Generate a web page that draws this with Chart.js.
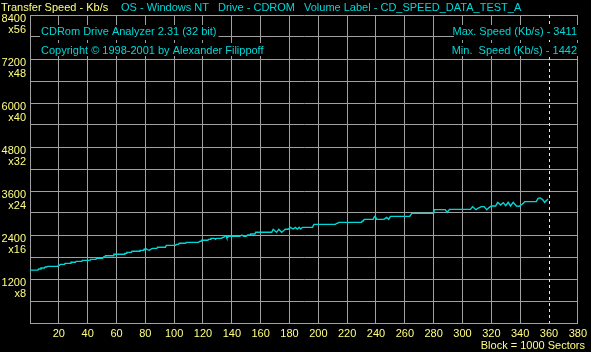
<!DOCTYPE html>
<html>
<head>
<meta charset="utf-8">
<script src="https://cdn.jsdelivr.net/npm/chart.js@4"></script>
<style>
  html, body { margin: 0; padding: 0; background: #000; }
  #wrap { width: 591px; height: 352px; }
</style>
</head>
<body>
<div id="wrap"><canvas id="cdChart"></canvas></div>
<script>
// position in blocks (1 block = 1000 sectors) and read speed in Kb/s
const blocks = [
  0, 5.5, 6, 7, 7.6, 10, 10.5, 11.7, 12.2, 19.3,
  19.8, 20.5, 21, 23.9, 24.3, 28, 28.4, 31.5, 32, 35.9,
  36.3, 41.6, 42, 45.7, 46.2, 50.3, 51, 51.9, 52.3, 57.7,
  58.2, 65.3, 65.8, 66.7, 67.2, 70.3, 70.8, 75.9, 76.3, 78.6,
  79, 79.6, 80, 81.4, 82.8, 84, 85, 88, 88.5, 94,
  94.5, 101, 101.5, 103, 103.5, 108, 108.5, 117, 117.5, 118.6,
  119, 123.4, 123.8, 125, 125.5, 128, 128.7, 129.3, 133, 133.5,
  134.5, 135, 136, 136.6, 138, 145.5, 147, 148.3, 150, 151,
  152.5, 153, 156, 156.5, 167.6, 168.7, 171, 172.6, 174.5, 176.5,
  177, 179, 180.7, 182.5, 184, 185.5, 186.7, 187.8, 189, 196,
  196.6, 197, 212, 212.5, 213.5, 214, 230, 230.5, 231.2, 231.8,
  238, 239, 239.5, 240.5, 245.5, 247.4, 248.8, 250, 263.4, 264.8,
  280, 280.5, 288, 289.4, 291, 305.5, 307, 309.4, 311, 313,
  315, 316.8, 318.6, 320, 323, 324.4, 326.4, 328.3, 330, 331.7,
  333.3, 335.2, 337.4, 339.3, 341.6, 343.2, 351.2, 352.4, 354, 355.9,
  357, 358.6, 359.2
];
const speeds = [
  1442, 1442, 1473, 1473, 1500, 1500, 1527, 1527, 1545, 1545,
  1573, 1573, 1600, 1600, 1627, 1627, 1655, 1655, 1682, 1682,
  1709, 1709, 1736, 1736, 1764, 1764, 1800, 1800, 1836, 1836,
  1873, 1873, 1900, 1900, 1927, 1927, 1955, 1955, 1982, 1982,
  2009, 2009, 2036, 2000, 1982, 2018, 2036, 2036, 2064, 2064,
  2118, 2118, 2145, 2145, 2173, 2173, 2200, 2200, 2227, 2227,
  2255, 2255, 2282, 2282, 2309, 2309, 2282, 2309, 2309, 2336,
  2336, 2373, 2373, 2318, 2364, 2364, 2400, 2364, 2364, 2400,
  2400, 2427, 2427, 2473, 2473, 2555, 2473, 2555, 2473, 2536,
  2555, 2555, 2609, 2564, 2609, 2564, 2609, 2564, 2609, 2609,
  2664, 2691, 2691, 2718, 2718, 2745, 2745, 2782, 2782, 2827,
  2827, 2909, 2909, 2827, 2827, 2882, 2827, 2909, 2909, 2990,
  2990, 3091, 3091, 3018, 3100, 3100, 3173, 3091, 3136, 3173,
  3173, 3091, 3155, 3191, 3191, 3291, 3218, 3282, 3200, 3291,
  3191, 3291, 3191, 3182, 3245, 3309, 3309, 3400, 3411, 3355,
  3291, 3355, 3380
];

const yLabelValues = [1200, 2400, 3600, 4800, 6000, 7200, 8400];
const yLabelMults = ['x8', 'x16', 'x24', 'x32', 'x40', 'x48', 'x56'];
const headerLeft = 'Transfer Speed - Kb/s';
const headerInfo = ['OS - Windows NT', 'Drive - CDROM', 'Volume Label - CD_SPEED_DATA_TEST_A'];
const infoLeft = ['CDRom Drive Analyzer 2.31 (32 bit)', 'Copyright \u00a9 1998-2001 by Alexander Filippoff'];
const infoRight = ['Max. Speed (Kb/s) - 3411', 'Min.  Speed (Kb/s) - 1442'];
const xUnitText = 'Block = 1000 Sectors';
const endBlock = 360;

const YELLOW = '#ffff80';
const CYAN = '#00d8d8';
const GRID = '#a0a0a0';
const FONT = '11px "Liberation Sans", Arial, sans-serif';

const cdPoints = blocks.map((b, i) => ({ x: b, y: speeds[i] }));

const overlayText = {
  id: 'overlayText',
  beforeDatasetsDraw(chart) {
    const { ctx, chartArea, scales } = chart;
    const xp = Math.round(scales.x.getPixelForValue(endBlock)) + 0.5;
    ctx.save();
    ctx.strokeStyle = '#e8e8e8';
    ctx.lineWidth = 1;
    ctx.setLineDash([3, 3]);
    ctx.beginPath();
    ctx.moveTo(xp, chartArea.top);
    ctx.lineTo(xp, chartArea.bottom);
    ctx.stroke();
    ctx.restore();
  },
  afterDraw(chart) {
    const { ctx, chartArea, scales } = chart;
    ctx.save();
    ctx.font = FONT;
    ctx.textBaseline = 'middle';

    // y labels: value and CD speed multiple, hanging just below each gridline
    ctx.textAlign = 'right';
    ctx.fillStyle = YELLOW;
    yLabelValues.forEach((v, i) => {
      const py = scales.y.getPixelForValue(v);
      ctx.fillText(String(v), chartArea.left - 4, py + 4);
      ctx.fillText(yLabelMults[i], chartArea.left - 4, py + 15);
    });

    ctx.textAlign = 'left';
    ctx.fillStyle = YELLOW;
    ctx.fillText(headerLeft, 1, 8);
    ctx.fillStyle = CYAN;
    ctx.fillText(headerInfo[0], 121, 8);
    ctx.fillText(headerInfo[1], 218, 8);
    ctx.fillText(headerInfo[2], 304, 8);

    // black boxes behind the in-plot captions
    const rows = [[25, 40, 32], [43, 56, 51]];
    ctx.fillStyle = '#000';
    ctx.fillRect(chartArea.left + 10, rows[0][0], ctx.measureText(infoLeft[0]).width + 3, rows[0][1] - rows[0][0]);
    ctx.fillRect(chartArea.left + 10, rows[1][0], ctx.measureText(infoLeft[1]).width + 3, rows[1][1] - rows[1][0]);
    ctx.fillRect(454, rows[0][0], 124, rows[0][1] - rows[0][0]);
    ctx.fillRect(454, rows[1][0], 124, rows[1][1] - rows[1][0]);

    ctx.fillStyle = CYAN;
    ctx.fillText(infoLeft[0], chartArea.left + 11, rows[0][2]);
    ctx.fillText(infoLeft[1], chartArea.left + 11, rows[1][2]);
    ctx.textAlign = 'right';
    ctx.fillText(infoRight[0], 577, rows[0][2]);
    ctx.fillText(infoRight[1], 577, rows[1][2]);

    ctx.fillStyle = YELLOW;
    ctx.fillText(xUnitText, 585, 346);
    ctx.restore();
  },
};

new Chart(document.getElementById('cdChart').getContext('2d'), {
  type: 'line',
  data: {
    datasets: [
      {
        data: cdPoints,
        borderColor: CYAN,
        borderWidth: 1.4,
        pointRadius: 0,
        tension: 0,
        fill: false,
      },
    ],
  },
  options: {
    maintainAspectRatio: false,
    animation: false,
    events: [],
    layout: { padding: { top: 15, right: 10, left: 0, bottom: 0 } },
    plugins: {
      legend: { display: false },
      tooltip: { enabled: false },
    },
    scales: {
      x: {
        type: 'linear',
        min: 0,
        max: 380,
        afterFit(scale) { scale.height = 29; },
        grid: {
          color: (c) => (c.tick && c.tick.value === endBlock ? 'rgba(0,0,0,0)' : GRID),
          drawTicks: false,
          lineWidth: 1,
        },
        border: { color: GRID },
        ticks: {
          stepSize: 20,
          autoSkip: false,
          maxRotation: 0,
          padding: 4,
          color: YELLOW,
          font: { family: '"Liberation Sans", Arial, sans-serif', size: 11 },
          callback: (v) => (v === 0 ? '' : String(v)),
        },
      },
      y: {
        min: 0,
        max: 8400,
        afterFit(scale) { scale.width = 30; },
        grid: { color: GRID, drawTicks: false, lineWidth: 1 },
        border: { color: GRID },
        ticks: {
          stepSize: 600,
          autoSkip: false,
          display: false,
        },
      },
    },
  },
  plugins: [overlayText],
});
</script>
</body>
</html>
